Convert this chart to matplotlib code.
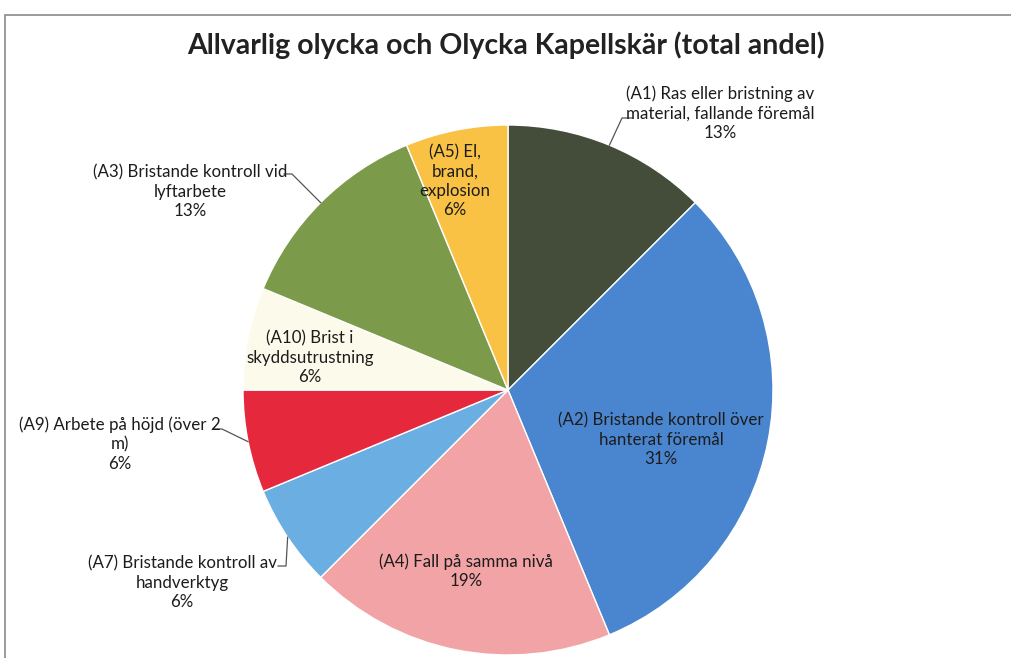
import numpy as np
import matplotlib
matplotlib.use("Agg")
import matplotlib.pyplot as plt
from matplotlib.patches import Rectangle

# counts behind the percentages (16 events in total)
labels = [
    "(A1) Ras eller bristning av\nmaterial, fallande föremål",
    "(A2) Bristande kontroll över\nhanterat föremål",
    "(A4) Fall på samma nivå",
    "(A7) Bristande kontroll av\nhandverktyg",
    "(A9) Arbete på höjd (över 2\nm)",
    "(A10) Brist i\nskyddsutrustning",
    "(A3) Bristande kontroll vid\nlyftarbete",
    "(A5) El,\nbrand,\nexplosion",
]
counts = [2, 5, 3, 1, 1, 1, 2, 1]
colors = ["#434d39", "#4a86d0", "#f2a3a6", "#6aaee2",
          "#e6283d", "#fcfaeb", "#7b9b4b", "#f9c245"]
title = "Allvarlig olycka och Olycka Kapellskär (total andel)"

# label centres in pixels of the 1011x658 picture, pie centre (508, 390), r 265
label_px = [(720, 113), (661, 440), (466, 571), (182, 583),
            (120, 444), (310, 358), (190, 192), (455, 181)]
outside = {0: [(622, 118), (632, 118)],
           3: [(286, 566), (278, 566)],
           4: [(222, 429), (214, 429)],
           6: [(292, 174), (284, 174)]}

W, H = 1011, 658
cx, cy, R = 508, 390, 265

plt.rcParams['font.family'] = ['Lato', 'DejaVu Sans']

fig = plt.figure(figsize=(W / 100, H / 100), dpi=100)
ax = fig.add_axes([(cx - R) / W, (H - cy - R) / H, 2 * R / W, 2 * R / H])
ax.axis("off")

wedges, _ = ax.pie(counts, colors=colors, startangle=90, counterclock=False,
                   radius=1, wedgeprops=dict(edgecolor="white", linewidth=1))
ax.set_xlim(-1, 1)
ax.set_ylim(-1, 1)

def to_data(p):
    return (p[0] - cx) / R, (cy - p[1]) / R

total = sum(counts)
for i, (lab, n) in enumerate(zip(labels, counts)):
    pct = int(np.floor(100 * n / total + 0.5))
    x, y = to_data(label_px[i])
    ax.text(x, y, "%s\n%d%%" % (lab, pct), ha="center", va="center",
            fontsize=12.2, color="#1c1c1c", linespacing=1.25)
    if i in outside:
        w = wedges[i]
        mid = np.deg2rad((w.theta1 + w.theta2) / 2)
        ex, ey = np.cos(mid), np.sin(mid)
        pts = [(ex, ey)] + [to_data(p) for p in outside[i]]
        ax.plot([p[0] for p in pts], [p[1] for p in pts], color="#555555",
                lw=0.9, clip_on=False)

fig.text(0.5, 1 - 45 / H, title, ha="center", va="center",
         fontsize=20.5, fontweight="bold", color="#222222")

# scanned chart frame
fig.patches.append(Rectangle((5 / W, -0.01), 1.02, 1 - 15 / H + 0.01,
                             transform=fig.transFigure, fill=False,
                             edgecolor="#8a8a8a", lw=1.2))

fig.savefig("out.png", dpi=100, facecolor="white")
